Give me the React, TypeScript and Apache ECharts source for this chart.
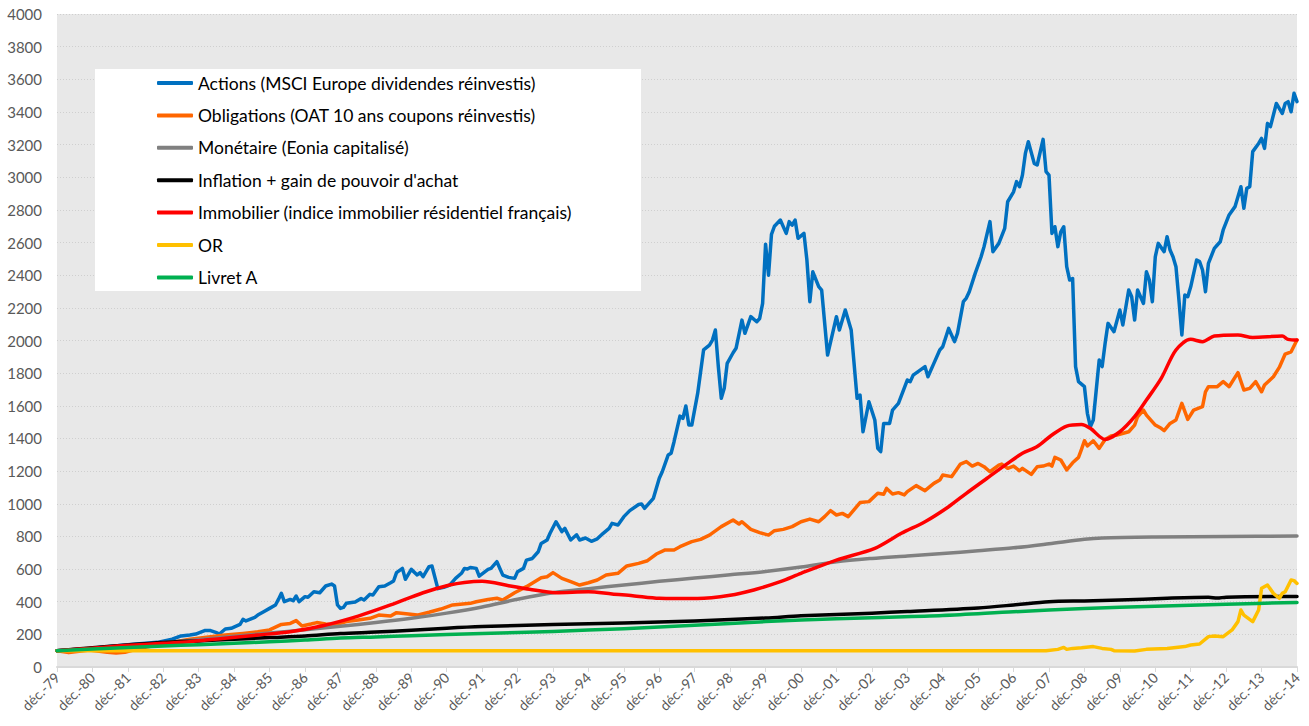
import React, { useEffect, useRef } from "react";
import * as echarts from "echarts";

// X values are month indexes counted from déc.-79 (0) to déc.-14 (420)
const yearLabels = [
  "déc.-79", "déc.-80", "déc.-81", "déc.-82", "déc.-83", "déc.-84", "déc.-85", "déc.-86", "déc.-87",
  "déc.-88", "déc.-89", "déc.-90", "déc.-91", "déc.-92", "déc.-93", "déc.-94", "déc.-95", "déc.-96",
  "déc.-97", "déc.-98", "déc.-99", "déc.-00", "déc.-01", "déc.-02", "déc.-03", "déc.-04", "déc.-05",
  "déc.-06", "déc.-07", "déc.-08", "déc.-09", "déc.-10", "déc.-11", "déc.-12", "déc.-13", "déc.-14",
];

const seriesNames = [
  "Actions (MSCI Europe dividendes réinvestis)",
  "Obligations (OAT 10 ans coupons réinvestis)",
  "Monétaire (Eonia capitalisé)",
  "Inflation + gain de pouvoir d'achat",
  "Immobilier (indice immobilier résidentiel français)",
  "OR",
  "Livret A",
];

const seriesColors = ["#0070C0", "#FF6600", "#808080", "#000000", "#FF0000", "#FFC000", "#00B050"];

const actions = [
  [0,100],[11,114],[23,135],[34,151],[39,170],[42,190],[45,196],[47,202],[50,223],[52,223],[54,210],[55,202],[57,233],[59,237],[62,261],[63,292],[64,282],[67,304],[68,318],[70,339],[72,359],[74,380],[75,414],[76,451],[77,400],[79,414],[80,406],[81,435],[82,400],[84,431],[85,427],[87,461],[89,455],[91,496],[93,508],[94,496],[95,380],[96,359],[97,365],[98,390],[101,398],[103,420],[104,410],[106,445],[107,441],[109,492],[111,496],[113,516],[114,527],[115,578],[117,604],[118,537],[120,598],[122,564],[123,578],[124,553],[126,615],[127,619],[129,480],[131,488],[133,502],[135,543],[137,574],[138,604],[139,600],[140,610],[142,604],[143,557],[146,598],[147,604],[149,645],[151,563],[153,549],[155,543],[156,584],[158,604],[159,655],[161,665],[163,706],[164,757],[166,778],[167,819],[169,890],[171,829],[172,849],[174,778],[176,810],[177,778],[179,790],[181,770],[183,785],[185,819],[187,849],[188,880],[190,870],[192,921],[194,958],[197,995],[198,998],[199,972],[202,1033],[204,1156],[205,1196],[207,1298],[208,1309],[209,1380],[211,1537],[212,1523],[213,1599],[214,1482],[215,1482],[217,1676],[219,1942],[221,1972],[222,2003],[223,2064],[224,1840],[225,1646],[226,1707],[227,1860],[229,1925],[230,1952],[232,2125],[233,2044],[235,2146],[237,2115],[238,2135],[239,2227],[240,2590],[241,2400],[242,2650],[243,2700],[245,2738],[247,2656],[248,2728],[249,2707],[250,2738],[251,2626],[253,2656],[254,2493],[255,2238],[256,2421],[258,2330],[259,2309],[261,1911],[264,2146],[265,2064],[267,2187],[269,2064],[271,1646],[272,1666],[273,1441],[275,1625],[277,1513],[278,1339],[279,1319],[280,1492],[282,1492],[283,1574],[285,1615],[288,1758],[289,1748],[290,1788],[294,1840],[295,1778],[297,1860],[299,1942],[300,1962],[302,2074],[304,1993],[305,2044],[307,2238],[308,2260],[309,2299],[311,2411],[313,2513],[314,2575],[316,2728],[317,2544],[319,2595],[321,2687],[322,2850],[324,2911],[325,2973],[326,2942],[327,3013],[328,3146],[329,3218],[331,3085],[332,3075],[334,3232],[335,3034],[336,3013],[337,2656],[338,2697],[339,2575],[340,2666],[341,2697],[342,2452],[343,2370],[344,2380],[345,1840],[346,1748],[348,1717],[349,1554],[350,1472],[351,1513],[352,1697],[353,1880],[354,1840],[355,1982],[356,2105],[358,2054],[360,2187],[361,2095],[363,2309],[364,2268],[365,2125],[366,2309],[368,2227],[369,2421],[370,2370],[371,2238],[372,2513],[373,2595],[375,2544],[376,2636],[377,2554],[378,2513],[379,2452],[380,2250],[381,2034],[382,2278],[383,2268],[384,2329],[386,2493],[387,2483],[388,2432],[389,2299],[390,2473],[392,2564],[393,2585],[394,2605],[395,2677],[397,2769],[399,2820],[401,2942],[402,2810],[403,2932],[404,2942],[405,3157],[407,3207],[408,3238],[409,3177],[410,3330],[411,3310],[413,3452],[415,3391],[416,3452],[417,3463],[418,3401],[419,3514],[420,3463],
];

const obligations = [
  [0,100],[4,88],[11,104],[17,90],[20,86],[23,90],[28,114],[34,135],[45,170],[57,196],[63,206],[68,216],[72,227],[76,261],[79,267],[81,284],[83,251],[86,263],[88,272],[91,263],[94,257],[98,278],[102,288],[106,298],[109,318],[113,312],[115,333],[119,325],[122,318],[126,335],[130,355],[134,380],[140,390],[142,400],[146,414],[149,421],[151,410],[155,455],[159,492],[164,547],[166,553],[168,578],[171,543],[174,523],[177,502],[180,516],[183,533],[186,563],[190,574],[193,619],[197,635],[200,651],[203,692],[206,717],[209,717],[211,737],[215,768],[218,782],[221,808],[225,860],[229,900],[231,876],[232,890],[235,843],[238,823],[241,808],[243,835],[246,843],[249,860],[252,890],[255,906],[258,890],[260,921],[262,958],[264,931],[266,941],[268,921],[272,1007],[275,1013],[278,1064],[280,1058],[281,1094],[283,1060],[285,1068],[287,1054],[288,1074],[291,1111],[294,1080],[297,1125],[299,1145],[300,1176],[303,1166],[306,1243],[308,1258],[310,1231],[312,1247],[314,1227],[316,1196],[319,1237],[320,1243],[322,1217],[324,1231],[326,1202],[327,1217],[330,1180],[332,1227],[334,1231],[336,1243],[337,1231],[338,1284],[340,1268],[342,1207],[344,1251],[346,1284],[347,1333],[348,1386],[349,1354],[351,1386],[353,1339],[355,1394],[357,1415],[359,1421],[363,1441],[365,1482],[366,1533],[368,1574],[369,1543],[372,1482],[374,1462],[375,1448],[377,1492],[379,1513],[381,1615],[383,1517],[385,1574],[388,1595],[389,1686],[390,1717],[393,1717],[395,1748],[397,1717],[400,1803],[402,1697],[404,1707],[406,1748],[408,1686],[409,1727],[412,1778],[414,1835],[416,1917],[418,1931],[420,2003],
];

const monetaire = [
  [0,100],[12,112],[24,128],[36,148],[48,168],[60,188],[72,208],[84,228],[96,250],[108,272],[120,298],[132,330],[144,368],[156,415],[168,455],[180,480],[192,502],[204,525],[216,545],[228,565],[240,585],[252,612],[264,645],[276,665],[288,680],[300,695],[312,712],[324,730],[336,755],[348,782],[354,790],[372,796],[396,800],[420,802],
];

const inflation = [
  [0,100],[12,118],[24,135],[36,150],[48,160],[60,170],[72,180],[84,190],[96,205],[108,214],[120,225],[132,238],[144,248],[168,260],[192,270],[216,282],[240,300],[252,314],[276,330],[288,340],[312,362],[324,380],[336,400],[348,405],[360,410],[376,421],[390,427],[393,422],[396,428],[420,432],
];

const immobilier = [
  [0,100],[12,115],[23,131],[36,145],[45,155],[56,175],[68,196],[79,216],[90,253],[102,312],[113,380],[124,455],[133,502],[138,518],[144,525],[153,498],[160,476],[169,455],[180,461],[188,447],[195,437],[204,421],[217,419],[228,439],[236,472],[245,523],[252,574],[264,655],[277,727],[286,819],[294,890],[302,982],[308,1064],[315,1156],[322,1247],[327,1309],[332,1350],[337,1421],[342,1476],[347,1486],[350,1462],[355,1394],[360,1441],[365,1533],[369,1635],[374,1768],[379,1942],[384,2007],[388,1993],[392,2027],[400,2034],[405,2019],[415,2027],[417,2007],[420,2003],
];

const or = [
  [0,100],[335,100],[339,108],[341,120],[342,108],[344,114],[347,118],[351,125],[354,114],[357,108],[358,100],[365,98],[369,108],[376,114],[382,125],[384,135],[387,141],[390,186],[392,190],[395,186],[398,227],[400,278],[401,349],[402,318],[405,278],[407,349],[408,482],[410,502],[412,451],[414,421],[415,451],[416,461],[418,533],[419,529],[420,512],
];

const livretA = [
  [0,100],[12,110],[24,120],[36,128],[48,137],[60,145],[72,155],[84,165],[96,177],[108,184],[120,192],[144,205],[168,218],[192,235],[216,255],[240,278],[252,288],[276,302],[300,315],[324,338],[348,358],[372,372],[396,385],[420,395],
];

const seriesData = [actions, obligations, monetaire, inflation, immobilier, or, livretA];
const smoothSeries = [false, false, true, true, true, false, true];

const FONT = "Lato, 'Open Sans', sans-serif";

export default function App() {
  const ref = useRef<HTMLDivElement>(null);

  useEffect(() => {
    if (!ref.current) return;
    const chart = echarts.init(ref.current, undefined, { renderer: "svg" });
    chart.setOption({
      animation: false,
      textStyle: { fontFamily: FONT },
      grid: {
        left: 57,
        right: 12,
        top: 14,
        bottom: 59,
        show: true,
        backgroundColor: "#E8E8E8",
        borderWidth: 0,
      },
      graphic: [
        {
          type: "rect",
          left: 95,
          top: 69,
          z: 1,
          shape: { width: 546, height: 222 },
          style: { fill: "#FFFFFF" },
        },
      ],
      legend: {
        orient: "vertical",
        left: 152,
        top: 68,
        itemWidth: 36,
        itemHeight: 4,
        itemGap: 12.4,
        icon: "roundRect",
        data: seriesNames,
        textStyle: { fontFamily: FONT, fontSize: 17.5, color: "#000000", lineHeight: 20 },
      },
      xAxis: {
        type: "value",
        min: 0,
        max: 420,
        interval: 12,
        axisLine: { show: true, lineStyle: { color: "#D9D9D9", width: 2 } },
        axisTick: { show: true, length: 5, lineStyle: { color: "#D9D9D9", width: 1 } },
        splitLine: { show: false },
        axisLabel: {
          rotate: 45,
          fontSize: 14,
          color: "#595959",
          fontFamily: FONT,
          margin: 8,
          formatter: (v: number) => yearLabels[Math.round(v / 12)] ?? "",
        },
      },
      yAxis: {
        type: "value",
        min: 0,
        max: 4000,
        interval: 200,
        axisLine: { show: false },
        axisTick: { show: false },
        splitLine: { show: true, lineStyle: { color: "#CFCFCF", type: [1, 2], width: 1 } },
        axisLabel: {
          fontSize: 15,
          color: "#595959",
          fontFamily: FONT,
          margin: 15,
          formatter: (v: number) => String(v),
        },
      },
      series: seriesNames.map((name, i) => ({
        name,
        type: "line",
        data: seriesData[i],
        showSymbol: false,
        symbol: "none",
        smooth: smoothSeries[i] ? 0.3 : false,
        color: seriesColors[i],
        lineStyle: { color: seriesColors[i], width: 3.5, cap: "round", join: "round" },
        z: 2 + i * 0.01,
      })),
    });
    return () => chart.dispose();
  }, []);

  return (
    <div
      ref={ref}
      style={{ position: "fixed", left: 0, top: 0, width: 1309, height: 726, background: "#FFFFFF" }}
    />
  );
}
